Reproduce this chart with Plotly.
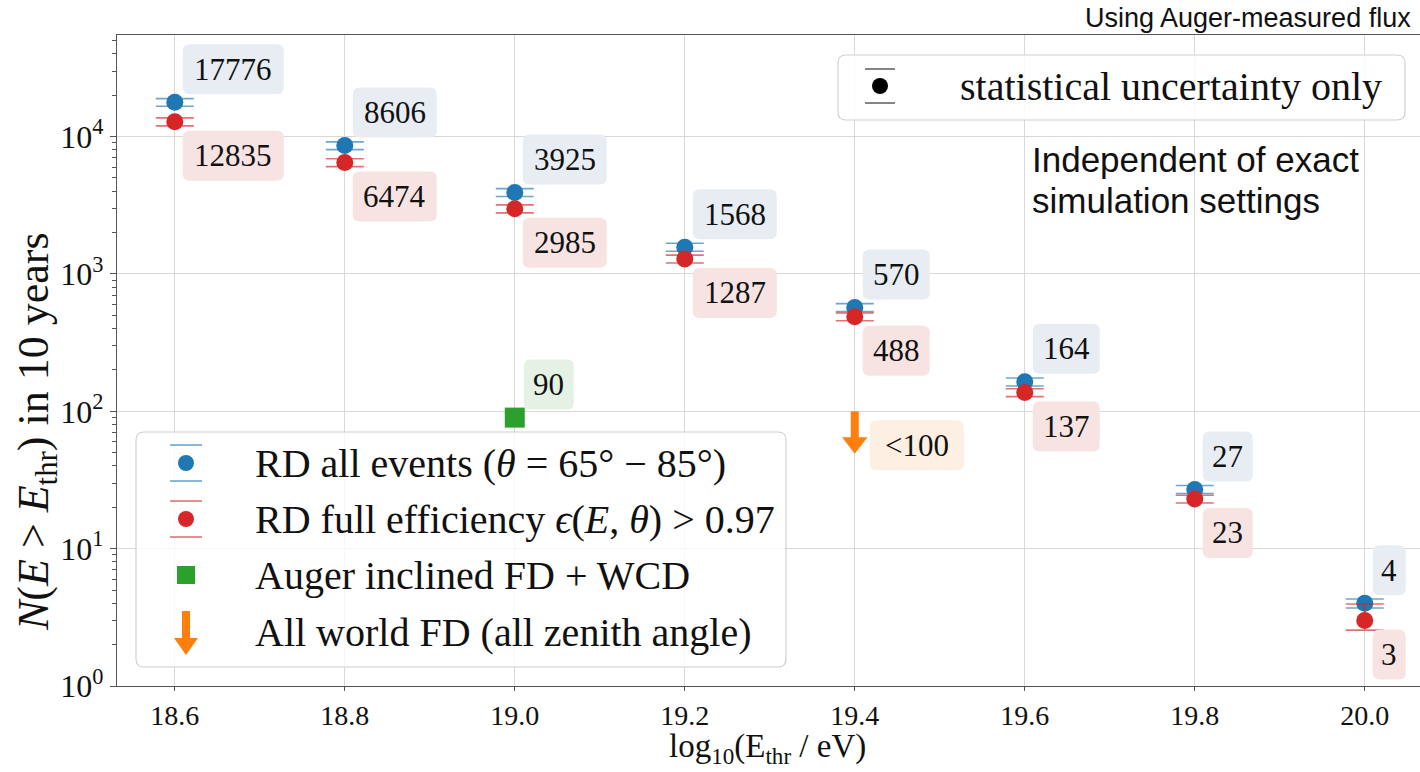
import math
import plotly.graph_objects as go

# ---- data ---------------------------------------------------------------
thresholds = [18.6, 18.8, 19.0, 19.2, 19.4, 19.6, 19.8, 20.0]

rd_all = [17776, 8606, 3925, 1568, 570, 164, 27, 4]
rd_all_err_plus = [1150, 560, 260, 105, 38, 11, 1.8, 0.3]
rd_all_err_minus = [1150, 560, 260, 105, 38, 11, 1.8, 0.3]

rd_full = [12835, 6474, 2985, 1287, 488, 137, 23, 3]
rd_full_err_plus = [850, 430, 200, 85, 32, 9, 1.5, 0.95]
rd_full_err_minus = [850, 430, 200, 85, 32, 9, 1.5, 0.45]

auger_x = [19.0]
auger_n = [90]

world_fd_x = [19.4]
world_fd_limit = [100]

x_ticks = [18.6, 18.8, 19.0, 19.2, 19.4, 19.6, 19.8, 20.0]
y_ticks = [1, 10, 100, 1000, 10000]
y_ticktext = ["10<sup>0</sup>", "10<sup>1</sup>", "10<sup>2</sup>", "10<sup>3</sup>", "10<sup>4</sup>"]
y_minor = [m * d for d in (1, 10, 100, 1000, 10000) for m in range(2, 10)]

# ---- styling ------------------------------------------------------------
W, H = 1420, 772
BLUE = "#1f77b4"
RED = "#d62728"
GREEN = "#2ca02c"
ORANGE = "#ff7f0e"
BLUE_ERR = "rgba(31,119,180,0.65)"
RED_ERR = "rgba(214,39,40,0.65)"
SERIF = "Liberation Serif"
SANS = "Liberation Sans"
AXIS_COL = "#555555"
GRID_COL = "#d8d8d8"
TEXT_COL = "#111111"

ARROW_SHAFT_DEC = 0.2    # length of the upper-limit arrow shaft (decades)
ARROW_HEAD_DEC = 0.228   # position of the arrow head marker (decades)


def px(x):
    return x / W


def py(y):
    return 1 - y / H


fig = go.Figure()

fig.add_trace(go.Scatter(
    x=thresholds, y=rd_all, mode="markers",
    marker=dict(color=BLUE, size=17),
    error_y=dict(type="data", symmetric=False, array=rd_all_err_plus,
                 arrayminus=rd_all_err_minus, color=BLUE_ERR, thickness=1.6, width=19),
    showlegend=False,
))
fig.add_trace(go.Scatter(
    x=thresholds, y=rd_full, mode="markers",
    marker=dict(color=RED, size=17),
    error_y=dict(type="data", symmetric=False, array=rd_full_err_plus,
                 arrayminus=rd_full_err_minus, color=RED_ERR, thickness=1.6, width=19),
    showlegend=False,
))
fig.add_trace(go.Scatter(
    x=auger_x, y=auger_n, mode="markers",
    marker=dict(color=GREEN, size=20, symbol="square"),
    showlegend=False,
))

# upper-limit arrows
for xv, lim in zip(world_fd_x, world_fd_limit):
    fig.add_trace(go.Scatter(
        x=[xv, xv], y=[lim, lim * 10 ** (-ARROW_SHAFT_DEC)], mode="lines",
        line=dict(color=ORANGE, width=8), showlegend=False,
    ))
    fig.add_trace(go.Scatter(
        x=[xv], y=[lim * 10 ** (-ARROW_HEAD_DEC)], mode="markers",
        marker=dict(color=ORANGE, size=22, symbol="triangle-down"),
        showlegend=False,
    ))

shapes = []
annotations = []


def rounded_path(x0, y0, x1, y1, r):
    return (f"M{x0 + r},{y0} L{x1 - r},{y0} Q{x1},{y0} {x1},{y0 + r} "
            f"L{x1},{y1 - r} Q{x1},{y1} {x1 - r},{y1} L{x0 + r},{y1} "
            f"Q{x0},{y1} {x0},{y1 - r} L{x0},{y0 + r} Q{x0},{y0} {x0 + r},{y0} Z")


def value_label(xv, yv, text, fill, above, xoff=8):
    w = 16 + 17 * len(text) + (10 if "<" in text else 0)
    h = 50
    if above:
        y0, y1 = 8, 8 + h
    else:
        y0, y1 = -9 - h, -9
    shapes.append(dict(
        type="path", xref="x", yref="y", xsizemode="pixel", ysizemode="pixel",
        xanchor=xv, yanchor=yv, path=rounded_path(xoff, y0, xoff + w, y1, 7),
        fillcolor=fill, line=dict(width=0), layer="above",
    ))
    annotations.append(dict(
        x=xv, y=math.log10(yv), xref="x", yref="y",
        text=text.replace("<", "&lt;"), showarrow=False,
        xshift=xoff + w / 2, yshift=(y0 + y1) / 2, xanchor="center", yanchor="middle",
        font=dict(family=SERIF, size=31, color=TEXT_COL),
    ))


for xv, n in zip(thresholds, rd_all):
    value_label(xv, n, f"{n}", "#e7edf3", True)
for xv, n in zip(thresholds, rd_full):
    value_label(xv, n, f"{n}", "#f8e3e3", False)
for xv, n in zip(auger_x, auger_n):
    value_label(xv, n, f"{n}", "#e4f1e4", True, xoff=9)
for xv, lim in zip(world_fd_x, world_fd_limit):
    value_label(xv, lim, f"<{lim}", "#fdefe2", False, xoff=15)


# ---- legend: series -------------------------------------------------------
def paper_rounded_box(x0, y0, x1, y1, r, fill, line_col):
    path = (f"M{px(x0 + r)},{py(y0)} L{px(x1 - r)},{py(y0)} Q{px(x1)},{py(y0)} {px(x1)},{py(y0 + r)} "
            f"L{px(x1)},{py(y1 - r)} Q{px(x1)},{py(y1)} {px(x1 - r)},{py(y1)} L{px(x0 + r)},{py(y1)} "
            f"Q{px(x0)},{py(y1)} {px(x0)},{py(y1 - r)} L{px(x0)},{py(y0 + r)} Q{px(x0)},{py(y0)} {px(x0 + r)},{py(y0)} Z")
    shapes.append(dict(type="path", xref="paper", yref="paper", path=path,
                       fillcolor=fill, line=dict(color=line_col, width=1.2), layer="above"))


def legend_dot(cx, cy, color, cap_color, d=16, cap_dy=18, cap_dx=16):
    for dy in (-cap_dy, cap_dy):
        shapes.append(dict(type="line", xref="paper", yref="paper",
                           x0=px(cx - cap_dx), x1=px(cx + cap_dx), y0=py(cy + dy), y1=py(cy + dy),
                           line=dict(color=cap_color, width=1.6), layer="above"))
    shapes.append(dict(type="circle", xref="paper", yref="paper",
                       xsizemode="pixel", ysizemode="pixel", xanchor=px(cx), yanchor=py(cy),
                       x0=-d / 2, x1=d / 2, y0=-d / 2, y1=d / 2,
                       fillcolor=color, line=dict(width=0), layer="above"))


def legend_text(x, y, text, size=40):
    annotations.append(dict(x=px(x), y=py(y), xref="paper", yref="paper", text=text,
                            showarrow=False, xanchor="left", yanchor="middle",
                            font=dict(family=SERIF, size=size, color=TEXT_COL)))


paper_rounded_box(136, 432, 786, 667, 8, "rgba(255,255,255,0.82)", "#d0d0d0")
LX = 186
legend_dot(LX, 463, BLUE, BLUE_ERR)
legend_dot(LX, 519, RED, RED_ERR)
shapes.append(dict(type="rect", xref="paper", yref="paper",
                   x0=px(LX - 9), x1=px(LX + 9), y0=py(584), y1=py(566),
                   fillcolor=GREEN, line=dict(width=0), layer="above"))
arrow_path = (f"M{px(LX - 4)},{py(611)} L{px(LX + 4)},{py(611)} L{px(LX + 4)},{py(638)} "
              f"L{px(LX + 12)},{py(638)} L{px(LX)},{py(655)} L{px(LX - 12)},{py(638)} "
              f"L{px(LX - 4)},{py(638)} Z")
shapes.append(dict(type="path", xref="paper", yref="paper", path=arrow_path,
                   fillcolor=ORANGE, line=dict(width=0), layer="above"))

legend_text(253, 463, "RD all events (<i>θ</i> = 65° − 85°)")
legend_text(253, 519, "RD full efficiency <i>ϵ</i>(<i>E</i>, <i>θ</i>) &gt; 0.97")
legend_text(253, 575, "Auger inclined FD + WCD")
legend_text(253, 632, "All world FD (all zenith angle)")

# ---- legend: uncertainty note ---------------------------------------------
paper_rounded_box(838, 55, 1405, 120, 8, "rgba(255,255,255,0.85)", "#d0d0d0")
legend_dot(880, 86, "#000000", "#666666", d=16, cap_dy=17, cap_dx=15)
legend_text(958, 87, "statistical uncertainty only")

# ---- free text ---------------------------------------------------------------
for yy, line in ((160, "Independent of exact"), (200, "simulation settings")):
    annotations.append(dict(x=px(1030), y=py(yy), xref="paper", yref="paper",
                            text=line, showarrow=False, xanchor="left", yanchor="middle",
                            font=dict(family=SANS, size=35, color=TEXT_COL)))
annotations.append(dict(x=px(1413), y=py(18), xref="paper", yref="paper",
                        text="Using Auger-measured flux", showarrow=False,
                        xanchor="right", yanchor="middle",
                        font=dict(family=SANS, size=27, color=TEXT_COL)))
annotations.append(dict(x=px(768), y=py(748), xref="paper", yref="paper",
                        text="log<sub>10</sub>(E<sub>thr</sub> / eV)", showarrow=False,
                        xanchor="center", yanchor="middle",
                        font=dict(family=SERIF, size=33, color=TEXT_COL)))
annotations.append(dict(x=px(36), y=py(432), xref="paper", yref="paper",
                        text="<i>N</i>(<i>E</i> &gt; <i>E</i><sub>thr</sub>) in 10 years",
                        showarrow=False, textangle=-90, xanchor="center", yanchor="middle",
                        font=dict(family=SERIF, size=44, color=TEXT_COL)))

fig.update_layout(
    width=W, height=H,
    margin=dict(l=0, r=0, t=0, b=0),
    paper_bgcolor="white", plot_bgcolor="white",
    shapes=shapes, annotations=annotations,
    showlegend=False,
    xaxis=dict(
        domain=[px(117), 1.0], range=[18.532, 20.065],
        tickvals=x_ticks, ticktext=[f"{v:.1f}" for v in x_ticks],
        showgrid=True, gridcolor=GRID_COL, gridwidth=1.2, zeroline=False,
        showline=True, linecolor=AXIS_COL, linewidth=1.3, mirror=True,
        ticks="outside", ticklen=4, tickcolor=AXIS_COL,
        tickfont=dict(family=SERIF, size=28, color=TEXT_COL), automargin=False,
    ),
    yaxis=dict(
        type="log", domain=[py(686), py(35)], range=[0, 4.74],
        tickvals=y_ticks, ticktext=y_ticktext,
        showgrid=True, gridcolor=GRID_COL, gridwidth=1.2, zeroline=False,
        showline=True, linecolor=AXIS_COL, linewidth=1.3, mirror=True,
        ticks="outside", ticklen=6, tickcolor=AXIS_COL,
        minor=dict(tickvals=y_minor, ticks="outside", ticklen=3.5, tickcolor=AXIS_COL, showgrid=False),
        tickfont=dict(family=SERIF, size=32, color=TEXT_COL), automargin=False,
    ),
)

fig.write_html("out.html")
